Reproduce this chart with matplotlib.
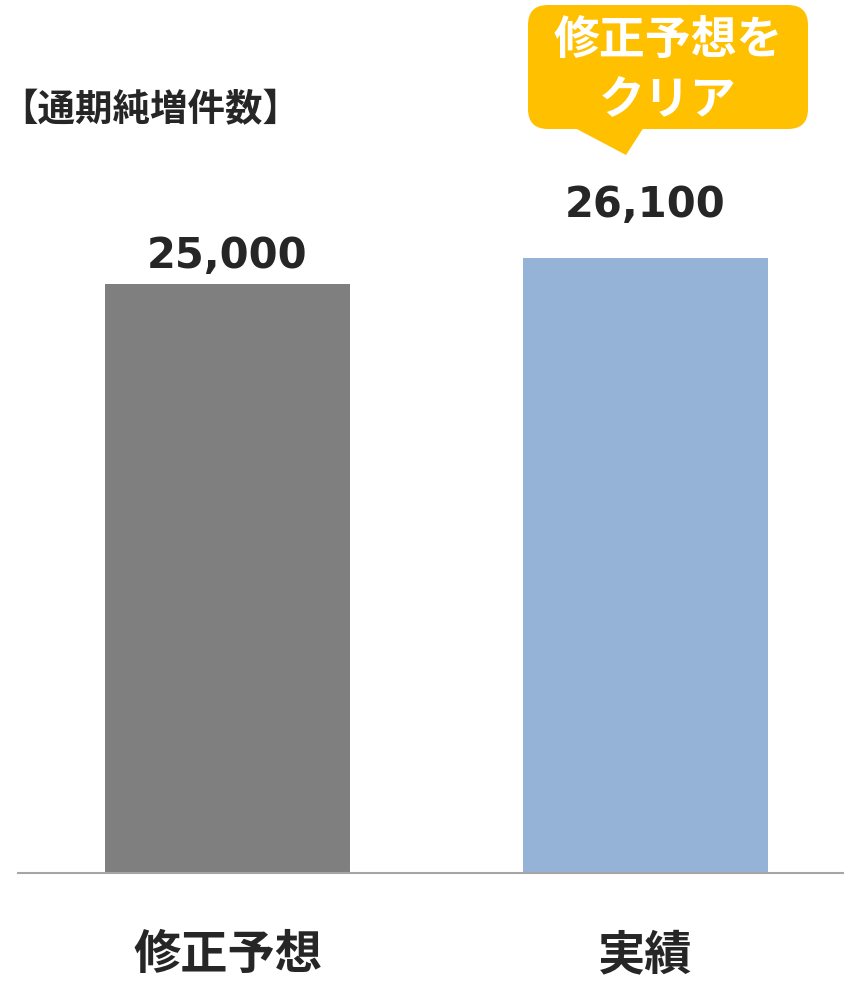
import matplotlib
matplotlib.use("Agg")
import matplotlib.pyplot as plt
from matplotlib.patches import FancyBboxPatch, Polygon

plt.rcParams['font.family'] = ['Noto Sans CJK JP', 'DejaVu Sans']

categories = ["修正予想", "実績"]
values = [25000, 26100]
value_labels = ["25,000", "26,100"]
colors = ["#7f7f7f", "#95b3d7"]
title = "【通期純増件数】"
callout_lines = ["修正予想を", "クリア"]

W, H = 844, 988
fig = plt.figure(figsize=(W / 100, H / 100), dpi=100)

# main axes: left edge 18px, right 844px, baseline 873px from top
x_left, x_right, base = 18, 844, 873
ax = fig.add_axes([x_left / W, 1 - base / H, (x_right - x_left) / W, base / H])
spacing = 418.0
c0 = 227.5
ax.set_xlim(-(c0 - x_left) / spacing, (x_right - c0) / spacing)
px_per_unit = 589 / 25000
ax.set_ylim(0, base / px_per_unit)

pos = list(range(len(categories)))
bars = ax.bar(pos, values, width=245 / spacing, color=colors, zorder=2)

offsets = [11.5, 29.5]
for b, lab, off in zip(bars, value_labels, offsets):
    ax.annotate(lab, (b.get_x() + b.get_width() / 2, b.get_height()),
                xytext=(0, off), textcoords="offset points",
                ha="center", va="baseline", fontsize=30, fontweight="bold",
                color="#262626", family="DejaVu Sans")

for s in ["top", "left", "right"]:
    ax.spines[s].set_visible(False)
ax.spines["bottom"].set_color("#a6a6a6")
ax.spines["bottom"].set_linewidth(1.5)
ax.set_yticks([])
ax.set_xticks(pos, categories)
ax.tick_params(axis="x", length=0, pad=42, labelsize=34, labelcolor="#262626")
for t in ax.get_xticklabels():
    t.set_fontweight("bold")

# overlay in pixel coordinates
ov = fig.add_axes([0, 0, 1, 1], zorder=5)
ov.set_xlim(0, W)
ov.set_ylim(H, 0)
ov.axis("off")

ov.text(0, 110, title, fontsize=27, fontweight="bold", color="#262626",
        ha="left", va="center")

box = FancyBboxPatch((528 + 20, 5 + 20), 280 - 40, 124 - 40,
                     boxstyle="round,pad=20", facecolor="#ffc000",
                     edgecolor="none")
ov.add_patch(box)
ov.add_patch(Polygon([(573, 127), (626, 155), (644, 127)], closed=True,
                     facecolor="#ffc000", edgecolor="none"))
ov.text(668, 41, callout_lines[0], fontsize=33, fontweight="bold", color="white",
        ha="center", va="center")
ov.text(668, 100, callout_lines[1], fontsize=33, fontweight="bold", color="white",
        ha="center", va="center")

fig.savefig("out.png", dpi=100)
